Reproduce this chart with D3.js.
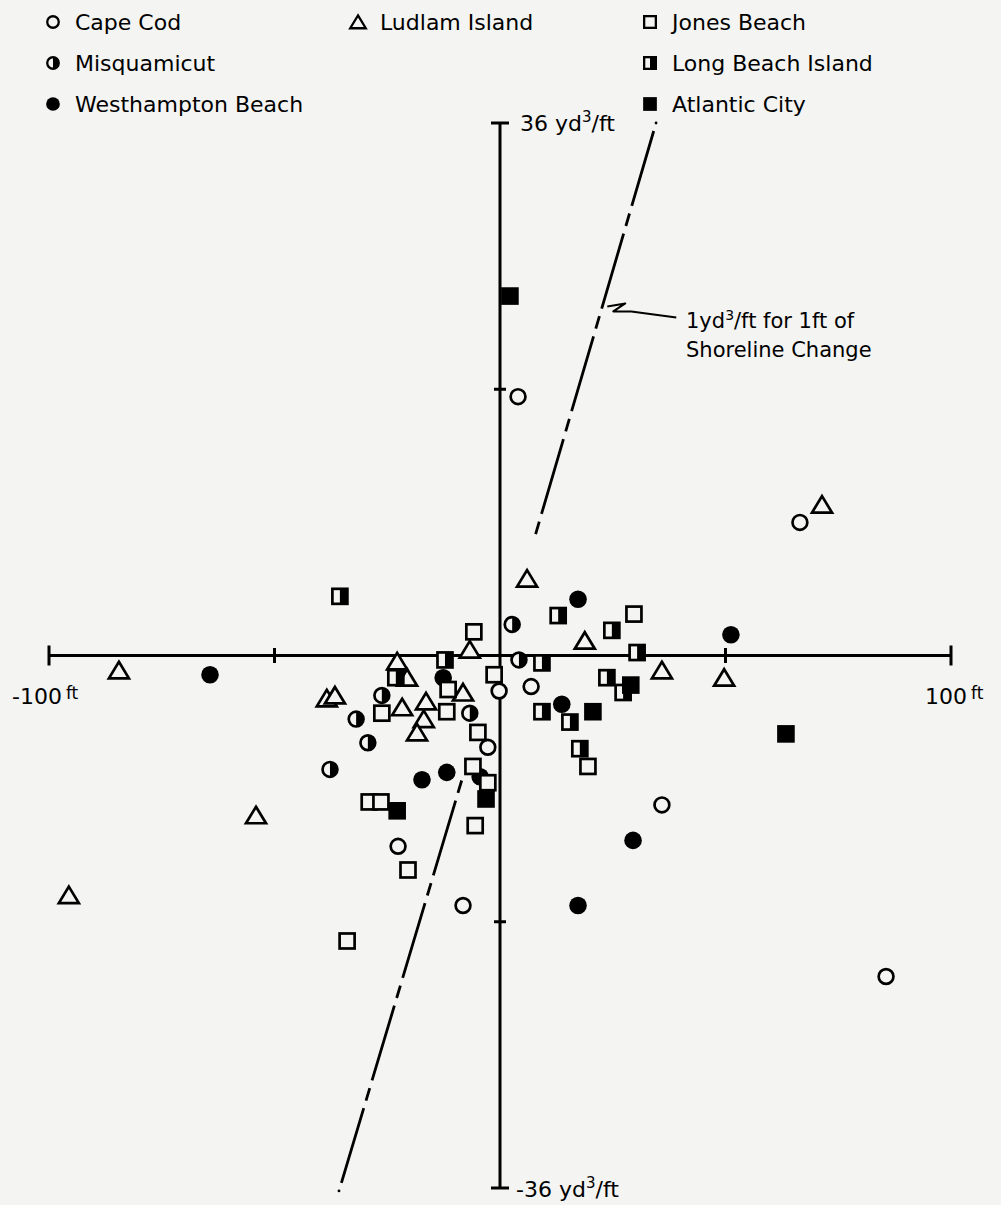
<!DOCTYPE html>
<html>
<head>
<meta charset="utf-8">
<script src="https://cdn.jsdelivr.net/npm/d3@7"></script>
<style>
  body { margin: 0; background: #f4f4f2; }
  svg { display: block; }
</style>
</head>
<body>
<div id="chart"></div>
<script>
// [shoreline change (ft), volume change (yd3/ft)]
const capeCod = [[4.0,17.5],[66.5,9.0],[-0.2,-2.4],[6.9,-2.1],[-2.7,-6.2],[35.9,-10.1],[-22.6,-12.9],[-8.2,-16.9],[85.6,-21.7]];
const misquamicut = [[2.7,2.1],[4.2,-0.3],[-26.2,-2.7],[-31.9,-4.3],[-29.3,-5.9],[-37.7,-7.7],[-6.7,-3.9]];
const westhampton = [[17.3,3.8],[51.2,1.4],[-64.3,-1.3],[-12.6,-1.5],[13.7,-3.3],[-17.3,-8.4],[-11.8,-7.9],[-4.4,-8.2],[29.5,-12.5],[17.3,-16.9]];
const ludlam = [[71.4,10.2],[6.0,5.2],[18.8,1.0],[-6.7,0.4],[-22.8,-0.4],[-20.6,-1.5],[-84.5,-1.0],[-38.4,-2.9],[-36.6,-2.7],[-21.7,-3.5],[-16.4,-3.1],[-16.9,-4.3],[-18.4,-5.2],[-8.2,-2.5],[35.9,-1.0],[49.7,-1.5],[-54.1,-10.8],[-95.6,-16.2]];
const jonesBeach = [[-5.8,1.6],[29.7,2.8],[-1.3,-1.3],[-11.5,-2.3],[-11.8,-3.8],[-26.2,-3.9],[-4.9,-5.2],[-6.0,-7.5],[-2.7,-8.6],[-5.5,-11.5],[19.5,-7.5],[-29.0,-9.9],[-26.4,-9.9],[-20.4,-14.5],[-33.9,-19.3]];
const longBeachIsland = [[-35.5,4.0],[12.9,2.7],[24.8,1.7],[30.4,0.2],[9.3,-0.5],[-12.2,-0.3],[-23.1,-1.5],[23.7,-1.5],[27.3,-2.5],[9.3,-3.8],[15.5,-4.5],[17.7,-6.3]];
const atlanticCity = [[2.2,24.3],[29.0,-2.0],[20.6,-3.8],[63.4,-5.3],[-22.8,-10.5],[-3.1,-9.7]];

// 1 yd3/ft per 1 ft reference line, drawn in two pieces
const refTop = [[34.6,36.0],[7.6,7.9]];
const refBottom = [[-35.7,-36.2],[-8.4,-8.35]];

const xTicks = [-100, -50, 50, 100];
const yTicks = [-36, -18, 18, 36];

const bg = "#f4f4f2";
const width = 1001, height = 1205;
const font = "'DejaVu Sans', sans-serif";

const svg = d3.select("#chart").append("svg")
    .attr("width", width).attr("height", height)
    .style("background", bg);

const x = d3.scaleLinear().domain([-100, 100]).range([49, 951]);
const y = d3.scaleLinear().domain([-36, 36]).range([1188, 123]);

const series = [
    { name: "Cape Cod", shape: "circle", pts: capeCod, lx: 53, ly: 22 },
    { name: "Misquamicut", shape: "halfCircle", pts: misquamicut, lx: 53, ly: 63 },
    { name: "Westhampton Beach", shape: "dot", pts: westhampton, lx: 53, ly: 104 },
    { name: "Ludlam Island", shape: "triangle", pts: ludlam, lx: 358, ly: 22 },
    { name: "Jones Beach", shape: "square", pts: jonesBeach, lx: 650, ly: 22 },
    { name: "Long Beach Island", shape: "halfSquare", pts: longBeachIsland, lx: 650, ly: 63 },
    { name: "Atlantic City", shape: "filledSquare", pts: atlanticCity, lx: 650, ly: 104 }
];

const drawMarker = (g, shape, s) => {
    const sw = 2.7 * Math.max(s, 0.85);
    if (shape === "circle" || shape === "halfCircle") {
        const r = 7.4 * s;
        g.append("circle").attr("r", r).attr("fill", bg).attr("stroke", "#000").attr("stroke-width", sw);
        if (shape === "halfCircle") {
            g.append("path").attr("d", `M0,${-r} A${r},${r} 0 0 1 0,${r} Z`).attr("fill", "#000");
        }
    } else if (shape === "dot") {
        g.append("circle").attr("r", 8.8 * s).attr("fill", "#000");
    } else if (shape === "triangle") {
        g.append("path").attr("d", `M0,${-8.5 * s} L${10 * s},${8 * s} L${-10 * s},${8 * s} Z`)
            .attr("fill", bg).attr("stroke", "#000").attr("stroke-width", sw).attr("stroke-linejoin", "miter");
    } else if (shape === "square" || shape === "halfSquare") {
        const h = 7.5 * s;
        g.append("rect").attr("x", -h).attr("y", -h).attr("width", 2 * h).attr("height", 2 * h)
            .attr("fill", bg).attr("stroke", "#000").attr("stroke-width", sw);
        if (shape === "halfSquare") {
            g.append("rect").attr("x", 0).attr("y", -h).attr("width", h).attr("height", 2 * h).attr("fill", "#000");
        }
    } else if (shape === "filledSquare") {
        const h = 8.8 * s;
        g.append("rect").attr("x", -h).attr("y", -h).attr("width", 2 * h).attr("height", 2 * h).attr("fill", "#000");
    }
};

// axes
const axes = svg.append("g").attr("stroke", "#000").attr("stroke-width", 3);
axes.append("line").attr("x1", x(-100)).attr("x2", x(100)).attr("y1", y(0)).attr("y2", y(0));
axes.append("line").attr("x1", x(0)).attr("x2", x(0)).attr("y1", y(36)).attr("y2", y(-36));
axes.selectAll(".xt").data(xTicks).join("line")
    .attr("x1", d => x(d)).attr("x2", d => x(d))
    .attr("y1", d => y(0) - (Math.abs(d) === 100 ? 10 : 7.5))
    .attr("y2", d => y(0) + (Math.abs(d) === 100 ? 10 : 7.5));
axes.selectAll(".yt").data(yTicks).join("line")
    .attr("y1", d => y(d)).attr("y2", d => y(d))
    .attr("x1", d => x(0) - (Math.abs(d) === 36 ? 9 : 6))
    .attr("x2", d => x(0) + (Math.abs(d) === 36 ? 9 : 6));

// reference line
const line = d3.line().x(d => x(d[0])).y(d => y(d[1]));
svg.selectAll(".ref").data([refTop, refBottom]).join("path")
    .attr("d", d => line([[d[0][0] * 0.985, d[0][1] * 0.985], d[1]]))
    .attr("fill", "none").attr("stroke", "#000").attr("stroke-width", 2.8)
    .attr("stroke-dasharray", "78,8,13,8");
svg.selectAll(".refDot").data([refTop[0], refBottom[0]]).join("circle")
    .attr("cx", d => x(d[0])).attr("cy", d => y(d[1])).attr("r", 1.4).attr("fill", "#000");

// annotation
const tipY = 23.6, tipX = tipY * refTop[0][0] / refTop[0][1];
const ann = svg.append("g").attr("transform", `translate(${x(tipX) + 5},${y(tipY)})`);
ann.append("path").attr("d", "M0,0 L18,-3 L6,5 L24,5 L69,11")
    .attr("fill", "none").attr("stroke", "#000").attr("stroke-width", 2).attr("stroke-linejoin", "round");
const annText = svg.append("text").attr("font-family", font).attr("font-size", 21).attr("fill", "#000");
annText.append("tspan").attr("x", 686).attr("y", 328).text("1yd");
annText.append("tspan").attr("dy", -8).attr("font-size", 14).text("3");
annText.append("tspan").attr("dy", 8).text("/ft  for 1ft of");
svg.append("text").attr("font-family", font).attr("font-size", 21)
    .attr("x", 686).attr("y", 357).text("Shoreline Change");

// axis labels
const unitLabel = (lx, ly, pre) => {
    const t = svg.append("text").attr("font-family", font).attr("font-size", 22).attr("x", lx).attr("y", ly);
    t.append("tspan").text(pre + " yd");
    t.append("tspan").attr("dy", -9).attr("font-size", 15).text("3");
    t.append("tspan").attr("dy", 9).text("/ft");
};
unitLabel(x(0) + 20, y(36) + 8, "36");
unitLabel(x(0) + 16, y(-36) + 9, "-36");

const ftLabel = (lx, ly, num) => {
    const t = svg.append("text").attr("font-family", font).attr("font-size", 22).attr("x", lx).attr("y", ly);
    t.append("tspan").text(num);
    t.append("tspan").attr("dx", 4).attr("dy", -5).attr("font-size", 17).text("ft");
};
ftLabel(12, y(0) + 48, "-100");
ftLabel(925, y(0) + 48, "100");

// points
series.forEach(s => {
    svg.append("g").selectAll("g").data(s.pts).join("g")
        .attr("transform", d => `translate(${x(d[0])},${y(d[1])})`)
        .each(function () { drawMarker(d3.select(this), s.shape, 1); });
});

// legend
const legend = svg.append("g");
series.forEach(s => {
    const g = legend.append("g").attr("transform", `translate(${s.lx},${s.ly})`);
    drawMarker(g, s.shape, 0.78);
    g.append("text").attr("x", 22).attr("y", 8).attr("font-family", font).attr("font-size", 22).text(s.name);
});
</script>
</body>
</html>
